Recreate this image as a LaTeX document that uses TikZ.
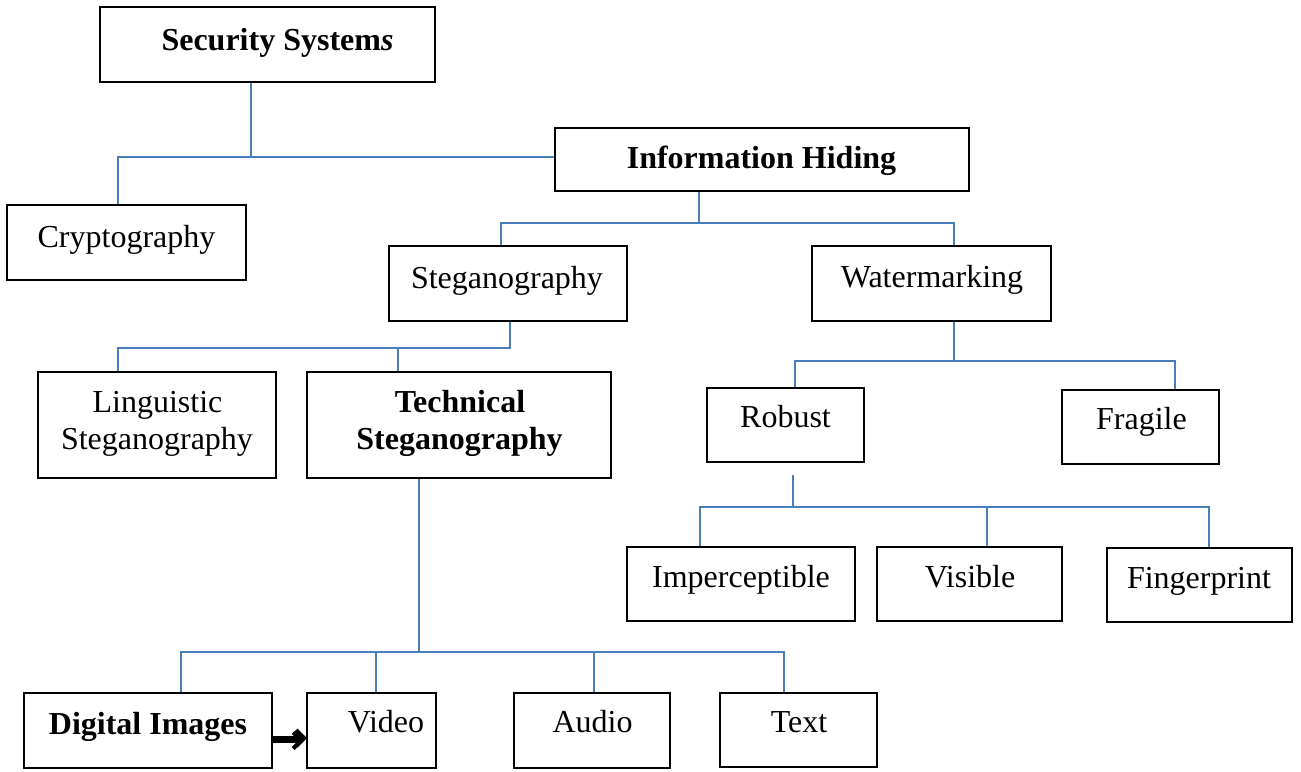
\documentclass[tikz,border=0pt]{standalone}
\usepackage{fontspec}
\setmainfont{Liberation Serif}
\usetikzlibrary{arrows.meta}
\definecolor{linkblue}{RGB}{74,126,187}
\definecolor{shade}{RGB}{160,160,160}
\begin{document}
\begin{tikzpicture}[x=1pt,y=-1pt,
  box/.style={draw=black, line width=1.8pt, rectangle, inner sep=0pt},
  link/.style={draw=linkblue, line width=1.8pt},
  lbl/.style={font=\fontsize{32}{37}\selectfont, anchor=base, inner sep=0pt}]
\useasboundingbox (0,0) rectangle (1301,771);

% boxes
\node[box, minimum width=335, minimum height=75] (sec)    at (267.5,44.5) {};
\node[box, minimum width=414, minimum height=63] (info)   at (762,159.5) {};
\node[box, minimum width=239, minimum height=75] (crypto) at (126.5,242.5) {};
\node[box, minimum width=238, minimum height=75] (stego)  at (508,283.5) {};
\node[box, minimum width=239, minimum height=75] (water)  at (931.5,283.5) {};
\node[box, minimum width=238, minimum height=106] (ling)  at (157,425) {};
\node[box, minimum width=304, minimum height=106] (tech)  at (459,425) {};
\node[box, minimum width=157, minimum height=74] (robust) at (785.5,425) {};
\node[box, minimum width=157, minimum height=74] (fragile) at (1140.5,427) {};
\node[box, minimum width=228, minimum height=74] (imp)    at (741,584) {};
\node[box, minimum width=185, minimum height=74] (vis)    at (969.5,584) {};
\node[box, minimum width=185, minimum height=74] (fing)   at (1199.5,585) {};
\node[box, minimum width=248, minimum height=75] (dig)    at (148,730.5) {};
\node[box, minimum width=129, minimum height=75] (video)  at (371.5,730.5) {};
\node[box, minimum width=156, minimum height=75] (audio)  at (592,730.5) {};
\node[box, minimum width=157, minimum height=74] (text)   at (798.5,730) {};

% labels
\node[lbl] (secT)    at (277.5,50)  {\textbf{Security System\textit{s}}};
\node[lbl] (infoT)   at (761.5,168) {\textbf{Information Hiding}};
\node[lbl] (cryptoT) at (126.5,247) {Cryptography};
\node[lbl] (stegoT)  at (507,288)   {Steganography};
\node[lbl] (waterT)  at (932,287)   {Watermarking};
\node[lbl] (lingA)   at (157.5,412) {Linguistic};
\node[lbl] (lingB)   at (157,449)   {Steganography};
\node[lbl] (techA)   at (460,412)   {\textbf{Technical}};
\node[lbl] (techB)   at (459.5,449) {\textbf{Steganography}};
\node[lbl] (robustT) at (785.5,427) {Robust};
\node[lbl] (fragT)   at (1141.5,429) {Fragile};
\node[lbl] (impT)    at (741,587)   {Imperceptible};
\node[lbl] (visT)    at (970,587)   {Visible};
\node[lbl] (fingT)   at (1199,588)  {Fingerprint};
\node[lbl] (digT)    at (148,734)   {\textbf{Digital Images}};
\node[lbl] (videoT)  at (386,732)   {Video};
\node[lbl] (audioT)  at (592.5,732) {Audio};
\node[lbl] (textT)   at (799,732)   {Text};

% junction points of the tree
\coordinate (aL) at (118,157);  \coordinate (aM) at (251,157);
\coordinate (bM) at (699,223);  \coordinate (bL) at (501,223);  \coordinate (bR) at (954,223);
\coordinate (cM) at (510,348);  \coordinate (cL) at (118,348);  \coordinate (cT) at (398,348);
\coordinate (dM) at (954,361);  \coordinate (dL) at (795,361);  \coordinate (dR) at (1175,361);
\coordinate (eTop) at (793,475); \coordinate (eM) at (793,507);
\coordinate (eL) at (700,507);  \coordinate (eV) at (987,507);  \coordinate (eR) at (1209,507);
\coordinate (fM) at (419,652);  \coordinate (fL) at (181,652);  \coordinate (fV) at (376,652);
\coordinate (fA) at (594,652);  \coordinate (fR) at (784,652);

% connectors
\draw[link] (sec.south -| aM) -- (aM);
\draw[link] (crypto.north -| aL) -- (aL) -- (info.west |- aL);

\draw[link] (info.south -| bM) -- (bM);
\draw[link] (stego.north -| bL) -- (bL) -- (bR) -- (water.north -| bR);

\draw[link] (stego.south -| cM) -- (cM) -- (cL) -- (ling.north -| cL);
\draw[link] (tech.north -| cT) -- (cT);

\draw[link] (water.south -| dM) -- (dM);
\draw[link] (robust.north -| dL) -- (dL) -- (dR) -- (fragile.north -| dR);

\draw[link] (eTop) -- (eM);
\draw[link] (imp.north -| eL) -- (eL) -- (eR) -- (fing.north -| eR);
\draw[link] (vis.north -| eV) -- (eV);

\draw[link] (tech.south -| fM) -- (fM);
\draw[link] (dig.north -| fL) -- (fL) -- (fR) -- (text.north -| fR);
\draw[link] (video.north -| fV) -- (fV);
\draw[link] (audio.north -| fA) -- (fA);

% arrow from Digital Images to Video, with a soft shadow beneath it
\coordinate (arA) at (273,738);
\coordinate (arB) at (307,738);
\draw[shade, line width=4pt, -{Straight Barb[length=8pt,width=16pt]}]
  ([yshift=-2.5]arA) -- ([xshift=-3,yshift=-2.5]arB);
\draw[black, line width=4pt, -{Straight Barb[length=8pt,width=16pt]}] (arA) -- (arB);
\end{tikzpicture}
\end{document}
